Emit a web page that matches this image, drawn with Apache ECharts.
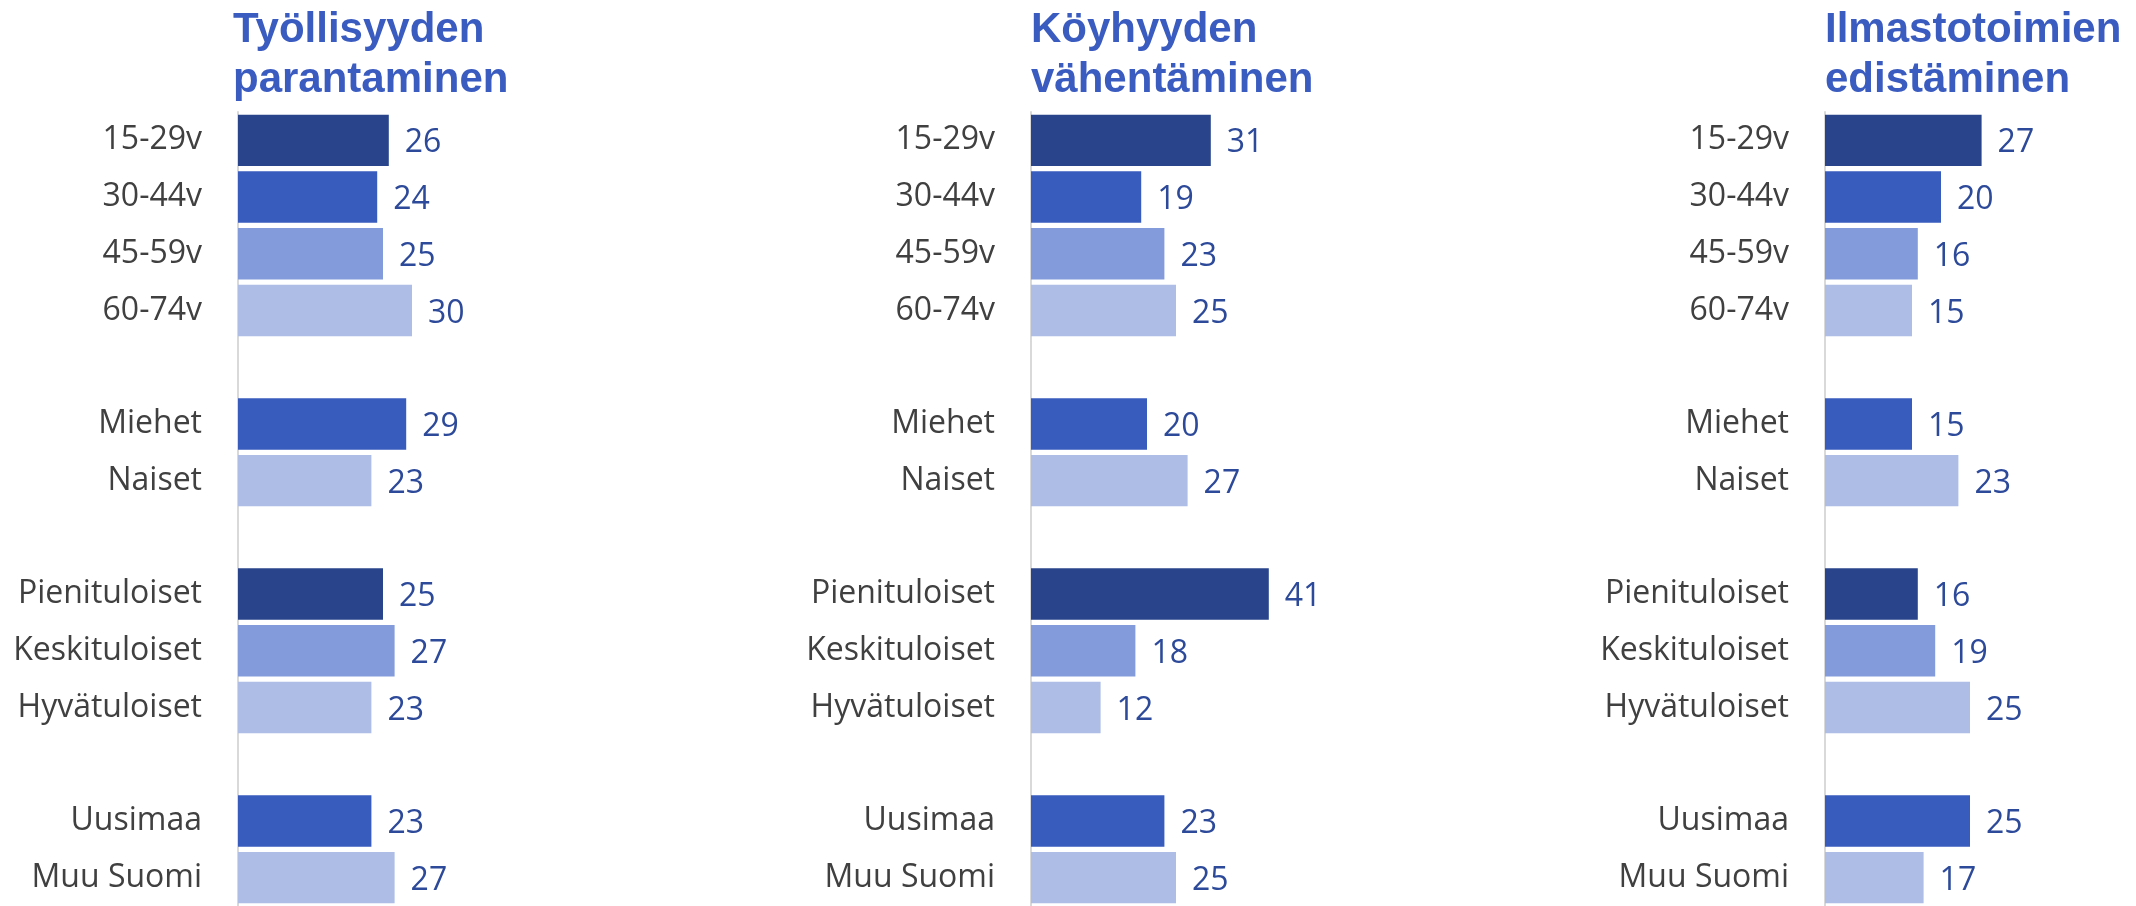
<!DOCTYPE html>
<html>
<head>
<meta charset="utf-8">
<style>
  html, body { margin: 0; padding: 0; background: #fff; }
  #chart { width: 2136px; height: 906px; }
</style>
<script src="https://cdn.jsdelivr.net/npm/echarts@6/dist/echarts.min.js"></script>
</head>
<body>
<div id="chart"></div>
<script>
// rivit (tyhjät rivit erottavat ryhmät)
const categories = ['15-29v', '30-44v', '45-59v', '60-74v', ' ',
  'Miehet', 'Naiset', '  ',
  'Pienituloiset', 'Keskituloiset', 'Hyvätuloiset', '   ',
  'Uusimaa', 'Muu Suomi'];

const titles = ['Työllisyyden\nparantaminen', 'Köyhyyden\nvähentäminen', 'Ilmastotoimien\nedistäminen'];

const tyollisyys = [26, 24, 25, 30, null, 29, 23, null, 25, 27, 23, null, 23, 27];
const koyhyys = [31, 19, 23, 25, null, 20, 27, null, 41, 18, 12, null, 23, 25];
const ilmasto = [27, 20, 16, 15, null, 15, 23, null, 16, 19, 25, null, 25, 17];

const panels = [tyollisyys, koyhyys, ilmasto];

// värit
const shades = {
    dark: '#29448b',
    mid: '#385bbe',
    midLight: '#839bdb',
    light: '#adbde6'
};
const rowShade = ['dark', 'mid', 'midLight', 'light', null, 'mid', 'light', null,
  'dark', 'midLight', 'light', null, 'mid', 'light'];

const lefts = [238, 1031, 1825];
const titleLefts = [233, 1031, 1825];
const font = '"Open Sans", Lato, sans-serif';

const chart = echarts.init(document.getElementById('chart'));

const option = {
    animation: false,
    title: [],
    grid: [],
    xAxis: [],
    yAxis: [],
    series: []
};

panels.forEach((values, i) => {
    option.title.push({
        text: titles[i],
        left: titleLefts[i],
        top: 5,
        padding: 0,
        textStyle: {
            fontFamily: '"Liberation Sans", Arial, sans-serif',
            fontWeight: 'bold',
            fontSize: 42,
            lineHeight: 50,
            color: '#3a5bc0'
        }
    });
    option.grid.push({
        left: lefts[i],
        top: 112,
        width: 290,
        height: 798,
        containLabel: false
    });
    option.xAxis.push({
        gridIndex: i,
        type: 'value',
        min: 0,
        max: 50,
        show: false
    });
    option.yAxis.push({
        gridIndex: i,
        type: 'category',
        inverse: true,
        data: categories,
        axisLine: { show: true, lineStyle: { color: '#d9d9d9', width: 2 } },
        axisTick: { show: false },
        splitLine: { show: false },
        axisLabel: {
            margin: 36,
            padding: [6, 0, 0, 0],
            fontFamily: font,
            fontSize: 32,
            color: '#404040'
        }
    });
    option.series.push({
        type: 'bar',
        xAxisIndex: i,
        yAxisIndex: i,
        barCategoryGap: '9.3%',
        data: values.map((v, k) => ({
            value: v,
            itemStyle: { color: rowShade[k] ? shades[rowShade[k]] : 'transparent' }
        })),
        label: {
            show: true,
            position: 'right',
            distance: 16,
            offset: [0, 3],
            fontFamily: font,
            fontSize: 32,
            color: '#2d4a9a',
            formatter: p => (p.value == null ? '' : p.value)
        }
    });
});

chart.setOption(option);
</script>
</body>
</html>
